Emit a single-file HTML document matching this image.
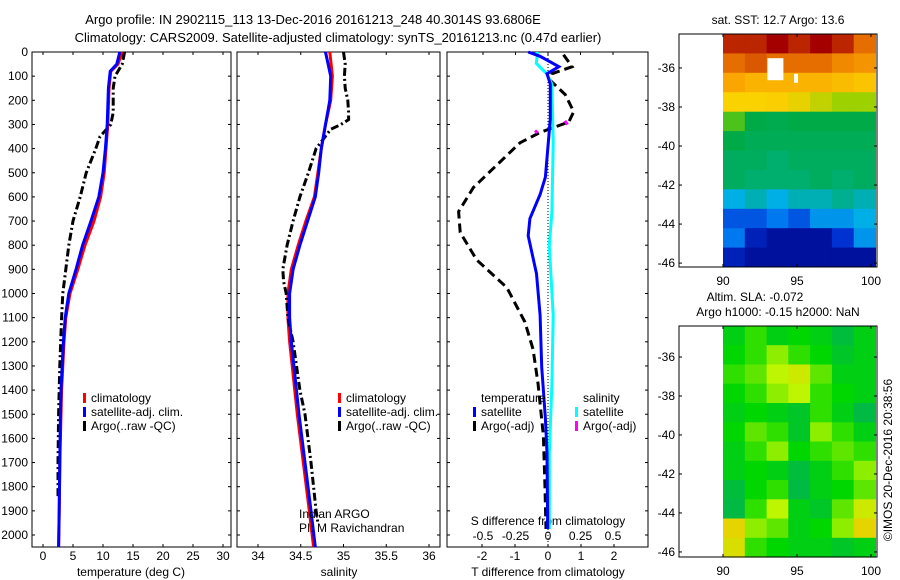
<!DOCTYPE html>
<html><head><meta charset="utf-8"><style>
body{margin:0;background:#fff;}
svg{display:block;font-family:"Liberation Sans",sans-serif;font-size:12px;}
</style></head><body>
<svg id="c" width="900" height="580" xmlns="http://www.w3.org/2000/svg">
<text x="313" y="24" text-anchor="middle" font-size="13">Argo profile: IN 2902115_113 13-Dec-2016 20161213_248 40.3014S 93.6806E</text>
<text x="338" y="42" text-anchor="middle" font-size="13">Climatology: CARS2009. Satellite-adjusted climatology: synTS_20161213.nc (0.47d earlier)</text>
<text x="778" y="24" text-anchor="middle">sat. SST: 12.7 Argo: 13.6</text>
<text x="755" y="301" text-anchor="middle">Altim. SLA: -0.072</text>
<text x="778" y="316" text-anchor="middle">Argo h1000: -0.15 h2000: NaN</text>
<text transform="translate(892,460) rotate(-90)" text-anchor="middle">©IMOS 20-Dec-2016 20:38:56</text>
<g id="g"></g>
</svg>
<script>
// ---- data ----
const depthTicks=[0,100,200,300,400,500,600,700,800,900,1000,1100,1200,1300,1400,1500,1600,1700,1800,1900,2000];
const tempTicks=[0,5,10,15,20,25,30];
const salTicks=[34,34.5,35,35.5,36];
const tdiffTicks=[-2,-1,0,1,2];
const sdiffTicks=[-0.5,-0.25,0,0.25,0.5];
const climDepth=[0,50,80,150,300,400,500,600,700,800,900,1000,1100,1200,1300,1400,1500,1700,1900,2050];
const climTemp=[13.2,12.5,11.3,11.0,10.8,10.5,10.2,9.6,8.5,7.0,5.8,4.5,3.8,3.5,3.3,3.1,3.0,2.8,2.7,2.6];
const satTemp=[12.8,12.3,11.2,10.9,10.7,10.4,10.0,9.3,8.0,6.6,5.5,4.3,3.7,3.4,3.2,3.0,2.9,2.8,2.7,2.6];
const argoDepth=[0,50,100,150,250,300,350,400,500,600,700,800,900,1000,1100,1300,1500,1700,1850];
const argoTemp=[13.6,13.2,12.0,11.7,11.7,11.3,9.5,8.8,7.2,6.2,5.0,4.3,3.8,3.3,3.1,2.8,2.6,2.5,2.5];
const climSalDepth=[0,100,200,300,400,500,600,700,800,900,1000,1100,1200,1300,1500,1700,1900,2050];
const climSal=[34.84,34.87,34.85,34.79,34.74,34.70,34.66,34.56,34.47,34.39,34.35,34.35,34.37,34.40,34.46,34.53,34.60,34.65];
const satSal=[34.79,34.85,34.84,34.79,34.74,34.71,34.67,34.58,34.49,34.41,34.37,34.37,34.39,34.42,34.48,34.55,34.62,34.67];
const argoSalDepth=[0,50,100,150,200,250,280,300,320,400,500,600,700,800,900,950,1000,1100,1200,1300,1400,1500,1700,1900,1950];
const argoSal=[35.0,35.02,35.01,35.02,35.05,35.06,35.06,34.97,34.85,34.68,34.59,34.49,34.41,34.34,34.29,34.30,34.33,34.35,34.41,34.45,34.49,34.55,34.62,34.68,34.70];
const tdSatDepth=[0,18,61,90,133,276,518,590,690,761,918,1090,1304,1518,1661,1975];
const tdSat=[-0.6,-0.24,0.33,-0.03,0.07,0.07,-0.08,-0.24,-0.55,-0.6,-0.35,-0.24,-0.19,-0.08,-0.03,-0.01];
const tdArgoDepth=[11,61,90,118,176,247,290,333,376,561,661,747,861,975,1118,1232,1375,1590,1804,1975];
const tdArgo=[0.47,0.73,0.12,0.07,0.52,0.78,0.63,-0.24,-0.85,-2.26,-2.71,-2.66,-2.16,-1.25,-0.7,-0.45,-0.3,-0.14,-0.09,-0.06];
const sdSatDepth=[0,47,90,133,376,661,804,1090,1375,1661,1975];
const sdSat=[-0.08,-0.09,-0.01,0.03,0.04,0.03,0.01,0.04,0.03,0.01,0.01];
const sdArgoDepth=[285,300,325,335];
const sdArgo=[0.13,0.15,-0.1,-0.08];
const lonTicks=[90,95,100];
const latTicks=[-36,-38,-40,-42,-44,-46];
const sstGrid=[
[0.95,0.95,1.0,0.95,1.0,0.95,0.85],
[0.85,0.88,0.85,0.85,0.85,0.80,0.78],
[0.75,0.72,0.72,0.72,0.72,0.70,0.68],
[0.65,0.65,0.66,0.64,0.62,0.60,0.60],
[0.55,0.50,0.48,0.50,0.50,0.50,0.50],
[0.50,0.47,0.47,0.47,0.47,0.47,0.47],
[0.45,0.45,0.42,0.45,0.45,0.45,0.45],
[0.45,0.42,0.42,0.42,0.45,0.42,0.45],
[0.35,0.38,0.35,0.38,0.38,0.40,0.38],
[0.20,0.20,0.25,0.20,0.30,0.30,0.35],
[0.25,0.10,0.05,0.05,0.05,0.15,0.30],
[0.10,0.05,0.05,0.05,0.05,0.05,0.05]];
const slaGrid=[
[0.5,0.6,0.5,0.55,0.5,0.4,0.5],
[0.55,0.6,0.7,0.6,0.55,0.45,0.5],
[0.6,0.65,0.75,0.8,0.65,0.5,0.5],
[0.55,0.6,0.7,0.75,0.6,0.55,0.5],
[0.5,0.55,0.5,0.45,0.6,0.5,0.35],
[0.55,0.65,0.6,0.45,0.7,0.6,0.5],
[0.5,0.6,0.7,0.55,0.6,0.65,0.6],
[0.5,0.55,0.5,0.4,0.5,0.6,0.7],
[0.4,0.55,0.6,0.35,0.5,0.55,0.65],
[0.35,0.6,0.75,0.5,0.45,0.65,0.8],
[0.9,0.7,0.65,0.5,0.55,0.7,0.9],
[0.85,0.6,0.55,0.5,0.5,0.45,0.5]];
// ---- drawing ----
const NS='http://www.w3.org/2000/svg';
const G=document.getElementById('g');
function mk(t,a,p){const e=document.createElementNS(NS,t);for(const k in a)e.setAttribute(k,a[k]);(p||G).appendChild(e);return e;}
const Y0=52,YS=0.2415;
const yD=d=>Y0+d*YS;
const xT=v=>43+v*6, xS=v=>258+(v-34)*85.5, xTD=v=>548+v*33, xSD=v=>548+v*130;
function box(x1,x2,y1,y2,name){const r=mk('rect',{x:x1,y:y1,width:x2-x1,height:y2-y1,fill:'none',stroke:'#000','stroke-width':1});

}
function line(xs,ds,fx,col,w,dash,name){
 const pts=xs.map((v,i)=>fx(v).toFixed(1)+','+yD(ds[i]).toFixed(1)).join(' ');
 const p=mk('polyline',{points:pts,fill:'none',stroke:col,'stroke-width':w});
 if(dash)p.setAttribute('stroke-dasharray',dash);
 
 }
function txt(x,y,s,anchor,name){const t=mk('text',{x:x,y:y,'text-anchor':anchor||'start'});t.textContent=s;
 
 return t;}
const BOT=547;
box(32,231,Y0,BOT,'temperature-axes');box(237,440,Y0,BOT,'salinity-axes');box(447,648,Y0,BOT,'difference-axes');
depthTicks.forEach(d=>{const y=yD(d);
 txt(28,y+4,String(d),'end','depth-tick-label');
 [[32,35],[228,231],[237,240],[437,440],[447,450],[645,648]].forEach(s=>mk('line',{x1:s[0],x2:s[1],y1:y,y2:y,stroke:'#000'}));});
tempTicks.forEach(v=>{const x=xT(v);mk('line',{x1:x,x2:x,y1:BOT,y2:BOT-3,stroke:'#000'});mk('line',{x1:x,x2:x,y1:Y0,y2:Y0+3,stroke:'#000'});txt(x,560,String(v),'middle','temperature-tick-label');});
salTicks.forEach(v=>{const x=xS(v);mk('line',{x1:x,x2:x,y1:BOT,y2:BOT-3,stroke:'#000'});mk('line',{x1:x,x2:x,y1:Y0,y2:Y0+3,stroke:'#000'});txt(x,560,String(v),'middle','salinity-tick-label');});
tdiffTicks.forEach(v=>{const x=xTD(v);mk('line',{x1:x,x2:x,y1:BOT,y2:BOT-3,stroke:'#000'});txt(x,560,String(v),'middle','tdiff-tick-label');});
sdiffTicks.forEach(v=>{const x=xSD(v);mk('line',{x1:x,x2:x,y1:Y0,y2:Y0+3,stroke:'#000'});txt(x,540,String(v),'middle','sdiff-tick-label');});
txt(131,576,'temperature (deg C)','middle','temperature-axis-title');
txt(339,576,'salinity','middle','salinity-axis-title');
txt(548,576,'T difference from climatology','middle','tdiff-axis-title');
txt(548,525,'S difference from climatology','middle','sdiff-axis-title');
mk('line',{x1:xTD(0),x2:xTD(0),y1:Y0,y2:BOT,stroke:'#000','stroke-dasharray':'1,2'});
line(climTemp,climDepth,xT,'#f00',3,null,'temp-climatology-line');
line(argoTemp,argoDepth,xT,'#000',3,'8,3,2,3','temp-argo-line');
line(satTemp,climDepth,xT,'#00f',3,null,'temp-satellite-line');
line(climSal,climSalDepth,xS,'#f00',3,null,'sal-climatology-line');
line(argoSal,argoSalDepth,xS,'#000',3,'8,3,2,3','sal-argo-line');
line(satSal,climSalDepth,xS,'#00f',3,null,'sal-satellite-line');
line(tdArgo,tdArgoDepth,xTD,'#000',3,'9,5','tdiff-argo-line');
line(sdSat,sdSatDepth,xSD,'#0ff',3,null,'sdiff-satellite-line');
line(tdSat,tdSatDepth,xTD,'#00f',3,null,'tdiff-satellite-line');
line(sdArgo.slice(0,2),sdArgoDepth.slice(0,2),xSD,'#f0f',3,null,'sdiff-argo-seg1');
line(sdArgo.slice(2),sdArgoDepth.slice(2),xSD,'#f0f',3,null,'sdiff-argo-seg2');
function leg(x,y,col,s,name){mk('rect',{x:x,y:y-9,width:3,height:10,fill:col});txt(x+8,y,s,'start',name);}
leg(83,402,'#f00','climatology','legend-climatology');leg(83,416,'#00f','satellite-adj. clim.','legend-satellite');leg(83,430,'#000','Argo(..raw -QC)','legend-argo');
leg(338,402,'#f00','climatology','legend2-climatology');leg(338,416,'#00f','satellite-adj. clim.','legend2-satellite');leg(338,430,'#000','Argo(..raw -QC)','legend2-argo');
txt(481,402,'temperature','start','legend-temperature-heading');txt(583,402,'salinity','start','legend-salinity-heading');
leg(473,416,'#00f','satellite','legend-t-satellite');leg(473,430,'#000','Argo(-adj)','legend-t-argo');
leg(575,416,'#0ff','satellite','legend-s-satellite');leg(575,430,'#f0f','Argo(-adj)','legend-s-argo');
txt(299,518,'Indian ARGO','start','pi-institution');txt(299,532,'PI: M Ravichandran','start','pi-name');
function ramp(st,v){for(let i=1;i<st.length;i++)if(v<=st[i][0]){const a=st[i-1],b=st[i],t=(v-a[0])/(b[0]-a[0]);return 'rgb('+a[1].map((c,k)=>Math.round(c+(b[1][k]-c)*t)).join(',')+')';}return 'rgb('+st[st.length-1][1].join(',')+')';}
const sstStops=[[0,[0,0,130]],[0.15,[0,50,210]],[0.25,[0,120,240]],[0.35,[0,175,230]],[0.42,[0,175,110]],[0.5,[0,170,70]],[0.58,[120,210,0]],[0.65,[250,210,0]],[0.75,[250,165,0]],[0.85,[230,110,0]],[1,[165,0,0]]];
const slaStops=[[0,[0,160,120]],[0.4,[0,190,60]],[0.55,[0,215,0]],[0.75,[190,245,0]],[1,[255,190,0]]];
function jet(v){return ramp(sstStops,v);}
function slac(v){return ramp(slaStops,v);}
function map(top,bot,latTop,latBot,grid,cf,name){
 const lonX=l=>723+(l-90)*14.8;
 const latY=l=>top+(latTop-l)*(bot-top)/(latTop-latBot);
 const rows=grid.length,cols=grid[0].length;
 grid.forEach((row,r)=>row.forEach((v,c)=>{
  const x1=lonX(90+c*10.3/cols),x2=lonX(90+(c+1)*10.3/cols);
  const y1=latY(latTop-r*(latTop-latBot)/rows),y2=latY(latTop-(r+1)*(latTop-latBot)/rows);
  const e=mk('rect',{x:x1.toFixed(1),y:y1.toFixed(1),width:(x2-x1+0.5).toFixed(1),height:(y2-y1+0.5).toFixed(1),fill:cf(v)});
  
  }));
 box(679,877,top,bot,name+'-axes');
 latTicks.forEach(l=>{const y=latY(l);mk('line',{x1:679,x2:682,y1:y,y2:y,stroke:'#000'});mk('line',{x1:874,x2:877,y1:y,y2:y,stroke:'#000'});txt(675,y+4,String(l),'end',name+'-lat-label');});
 lonTicks.forEach(l=>{const x=lonX(l);mk('line',{x1:x,x2:x,y1:bot,y2:bot-3,stroke:'#000'});mk('line',{x1:x,x2:x,y1:top,y2:top+3,stroke:'#000'});txt(x,bot+18,String(l),'middle',name+'-lon-label');});
 return {lonX,latY};}
const m1=map(34,267,-34.26,-46.2,sstGrid,jet,'sst-map');
mk('rect',{x:m1.lonX(93),y:m1.latY(-35.5),width:16,height:22,fill:'#fff'});
mk('rect',{x:m1.lonX(94.8),y:m1.latY(-36.3),width:4,height:9,fill:'#fff'});
map(326,557,-34.41,-46.26,slaGrid,slac,'sla-map');
</script>
</body></html>
